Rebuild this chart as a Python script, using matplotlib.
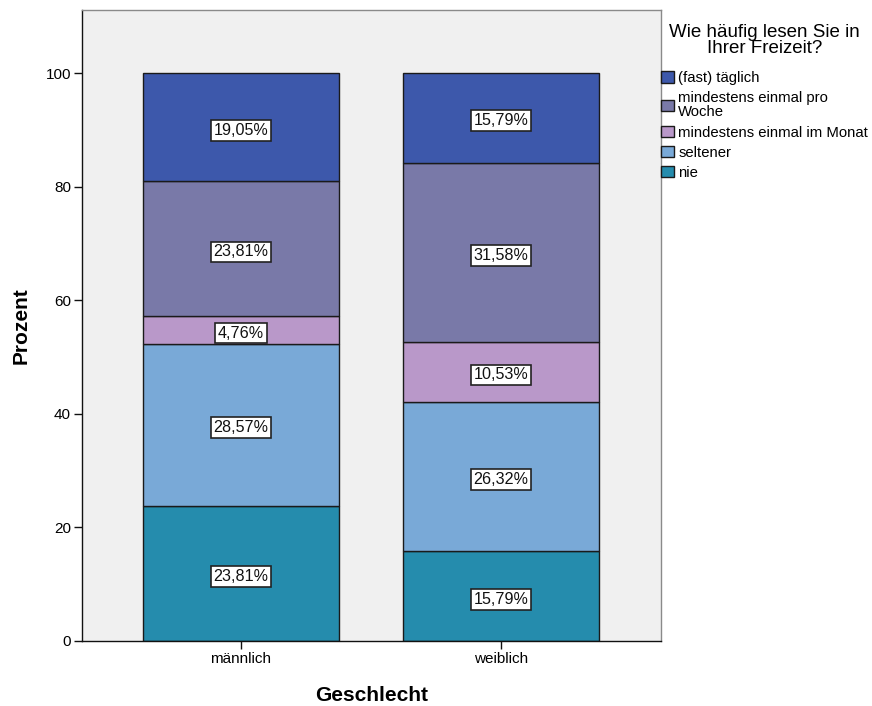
import matplotlib
matplotlib.use("Agg")
import matplotlib.pyplot as plt
import numpy as np

plt.rcParams['font.family'] = ['Liberation Sans', 'DejaVu Sans']

groups = ["männlich", "weiblich"]
# stacked from bottom to top
categories = ["nie", "seltener", "mindestens einmal im Monat",
              "mindestens einmal pro\nWoche", "(fast) täglich"]
values = {
    "nie": [23.81, 15.79],
    "seltener": [28.57, 26.32],
    "mindestens einmal im Monat": [4.76, 10.53],
    "mindestens einmal pro\nWoche": [23.81, 31.58],
    "(fast) täglich": [19.05, 15.79],
}
colors = ["#258cad", "#79a9d7", "#b998c9", "#7979a8", "#3d58ab"]
yticks = [0, 20, 40, 60, 80, 100]

fig = plt.figure(figsize=(8.72, 7.06), dpi=100)
ax = fig.add_axes([82 / 872, 1 - 641 / 706, (661 - 82) / 872, (641 - 10) / 706])
ax.set_facecolor("#f0f0f0")

x = np.arange(len(groups))
bottom = np.zeros(len(groups))
handles = []
for cat, col in zip(categories, colors):
    vals = np.array(values[cat])
    bars = ax.bar(x, vals, width=0.754, bottom=bottom, color=col,
                  edgecolor="#1a1a1a", linewidth=1.0, label=cat, zorder=2)
    handles.append(bars)
    for xi, v, b in zip(x, vals, bottom):
        ax.annotate(f"{v:.2f}%".replace(".", ","), xy=(xi, b + v / 2),
                    xytext=(0, -2.2), textcoords="offset points",
                    ha="center", va="center", fontsize=11.6, color="#111111",
                    zorder=4,
                    bbox=dict(boxstyle="square,pad=0.18", facecolor="white",
                              edgecolor="#222222", linewidth=1.2))
    bottom = bottom + vals

ax.set_xlim(-0.6115, 1.615)
ax.set_ylim(0, 111.1)
ax.set_xticks(x)
ax.set_xticklabels(groups, fontsize=11)
ax.set_yticks(yticks)
ax.set_yticklabels([str(t) for t in yticks], fontsize=11)
ax.tick_params(axis="both", direction="out", length=6, width=1.0,
               color="#111111", pad=2)

for side in ["left", "bottom"]:
    ax.spines[side].set_color("#111111")
    ax.spines[side].set_linewidth(1.0)
for side in ["top", "right"]:
    ax.spines[side].set_color("#8a8a8a")
    ax.spines[side].set_linewidth(1.0)

ax.set_ylabel("Prozent", fontsize=15, fontweight="bold", labelpad=10.5)
ax.set_xlabel("Geschlecht", fontsize=15, fontweight="bold", labelpad=14)

leg = ax.legend(handles[::-1], categories[::-1],
                title="Wie häufig lesen Sie in\nIhrer Freizeit?",
                loc="upper left", bbox_to_anchor=(1.0, 0.978),
                frameon=False, fontsize=10.7, title_fontsize=13.5,
                handlelength=0.9, handleheight=0.8, handletextpad=0.27,
                labelspacing=0.41, borderpad=0, borderaxespad=0)
leg.get_title().set_multialignment("center")
leg.get_title().set_linespacing(0.95)
for t in leg.get_texts():
    t.set_linespacing(1.02)
leg._legend_box.align = "center"
leg._legend_box.sep = 10
for lh in leg.legend_handles:
    lh.set_edgecolor("#1a1a1a")
    lh.set_linewidth(1.0)

fig.savefig("out.png", dpi=100)
